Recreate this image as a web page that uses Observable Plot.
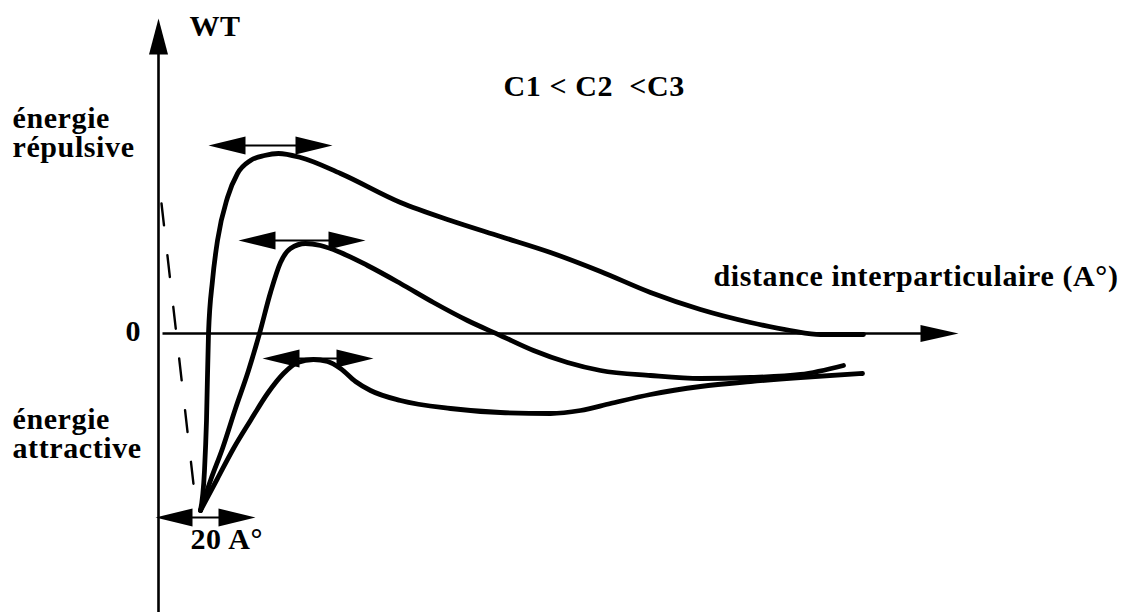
<!DOCTYPE html>
<html>
<head>
<meta charset="utf-8">
<script src="https://cdn.jsdelivr.net/npm/d3@7"></script>
<script src="https://cdn.jsdelivr.net/npm/@observablehq/plot@0.6"></script>
<style>
  html, body { margin: 0; padding: 0; background: #fff; }
  #chart svg { display: block; }
  #chart svg text { letter-spacing: 0.6px; }
</style>
</head>
<body>
<div id="chart"></div>
<script>
// Total interaction energy WT versus interparticle distance, for three
// concentrations C1 < C2 < C3 (diagram units: x = distance, y = energy).
const curveC1 = [
  [42,-177],[46,-137],[48,-87],[50,0],[54,53],[59,93],[69,136],[79,160],[92,173],
  [106,178],[120,180],[142,176],[182,160],[242,131],[292,113],[342,97],[392,81],
  [442,62],[492,41],[542,24],[592,11],[632,3],[662,-1],[705,-1]
];
const curveC2 = [
  [42,-177],[52,-147],[64,-115],[77,-75],[90,-37],[101,0],[112,41],[122,71],[132,85],
  [147,90],[162,88],[182,81],[209,68],[242,50],[275,31],[309,13],[342,-2],[375,-17],
  [409,-29],[442,-37],[492,-42],[542,-45],[592,-44],[642,-41],[685,-32]
];
const curveC3 = [
  [42,-177],[59,-145],[75,-115],[92,-87],[109,-60],[125,-40],[139,-29],[155,-26],
  [169,-28],[182,-35],[197,-48],[212,-57],[242,-67],[292,-75],[342,-79],[392,-80],
  [422,-77],[452,-70],[492,-61],[542,-53],[592,-48],[642,-44],[704,-40]
];
// short-range (Born) repulsion, drawn dashed
const bornWall = [[3,130],[38,-177]];

// double-headed spans: energy-barrier widths and the 20 A° minimum distance
const spanStart = [50, 80, 104, -3];
const spanEnd   = [174, 207, 215, 97];
const spanLevel = [188, 93, -25, -184];

// axis extents
const yAxisExtent = [-279, 315];
const xAxisExtent = [4, 800];

// text annotations
const labelText = ["WT", "énergie\nrépulsive", "0", "énergie\nattractive",
                   "C1 < C2  <C3", "distance interparticulaire (A°)", "20 A°"];
const labelX = [31, -146, -33, -146, 345, 555, 32];
const labelY = [298, 177, -7, -124, 238, 48, -215];

const toPts = (arr) => arr.map(([x, y]) => ({x, y}));
const spans = spanStart.map((x1, i) => ({x1, x2: spanEnd[i], y: spanLevel[i]}));
const labels = labelText.map((text, i) => ({text, x: labelX[i], y: labelY[i]}));

// filled triangular arrowhead; tip at the anchor point, pointing along +x
function arrowHead(len, half) {
  return {
    draw(ctx) {
      ctx.moveTo(0, 0);
      ctx.lineTo(-len, -half);
      ctx.lineTo(-len, half);
      ctx.closePath();
    }
  };
}

const spanHeads = spans.flatMap(s => [
  {x: s.x1, y: s.y, angle: 180},
  {x: s.x2, y: s.y, angle: 0}
]);

const ink = "#000";
const curveStyle = {x: "x", y: "y", curve: "monotone-x", stroke: ink, strokeWidth: 4.8,
                    strokeLinecap: "round", strokeLinejoin: "round"};

const chart = Plot.plot({
  width: 1130,
  height: 612,
  margin: 0,
  x: {domain: [-158, 972], range: [0, 1130], axis: null},
  y: {domain: [-279, 333], range: [612, 0], axis: null},
  style: {background: "#fff"},
  marks: [
    // axes
    Plot.link([{x1: 0, y1: yAxisExtent[0], x2: 0, y2: yAxisExtent[1] - 20}],
      {x1: "x1", y1: "y1", x2: "x2", y2: "y2", stroke: ink, strokeWidth: 2.6}),
    Plot.link([{x1: xAxisExtent[0], y1: 0, x2: xAxisExtent[1] - 20, y2: 0}],
      {x1: "x1", y1: "y1", x2: "x2", y2: "y2", stroke: ink, strokeWidth: 2.4}),
    Plot.dot([{x: 0, y: yAxisExtent[1]}],
      {x: "x", y: "y", symbol: arrowHead(36, 9.5), rotate: -90, fill: ink, stroke: "none", r: 5}),
    Plot.dot([{x: xAxisExtent[1], y: 0}],
      {x: "x", y: "y", symbol: arrowHead(38, 8.5), rotate: 0, fill: ink, stroke: "none", r: 5}),

    // Born repulsion
    Plot.line(toPts(bornWall),
      {x: "x", y: "y", stroke: ink, strokeWidth: 2.4, strokeDasharray: "22,30"}),

    // energy curves
    Plot.line(toPts(curveC1), curveStyle),
    Plot.line(toPts(curveC2), curveStyle),
    Plot.line(toPts(curveC3), curveStyle),

    // spans
    Plot.link(spans, {x1: d => d.x1 + 10, x2: d => d.x2 - 10, y1: "y", y2: "y", stroke: ink, strokeWidth: 2.2}),
    Plot.dot(spanHeads,
      {x: "x", y: "y", symbol: arrowHead(37, 9), rotate: "angle", fill: ink, stroke: "none", r: 5}),

    // labels
    Plot.text(labels, {
      x: "x", y: "y", text: "text",
      textAnchor: "start", lineAnchor: "bottom", lineHeight: 0.94,
      fontFamily: "Liberation Serif", fontWeight: "bold", fontSize: 30, fill: ink
    })
  ]
});

document.getElementById("chart").appendChild(chart);
</script>
</body>
</html>
